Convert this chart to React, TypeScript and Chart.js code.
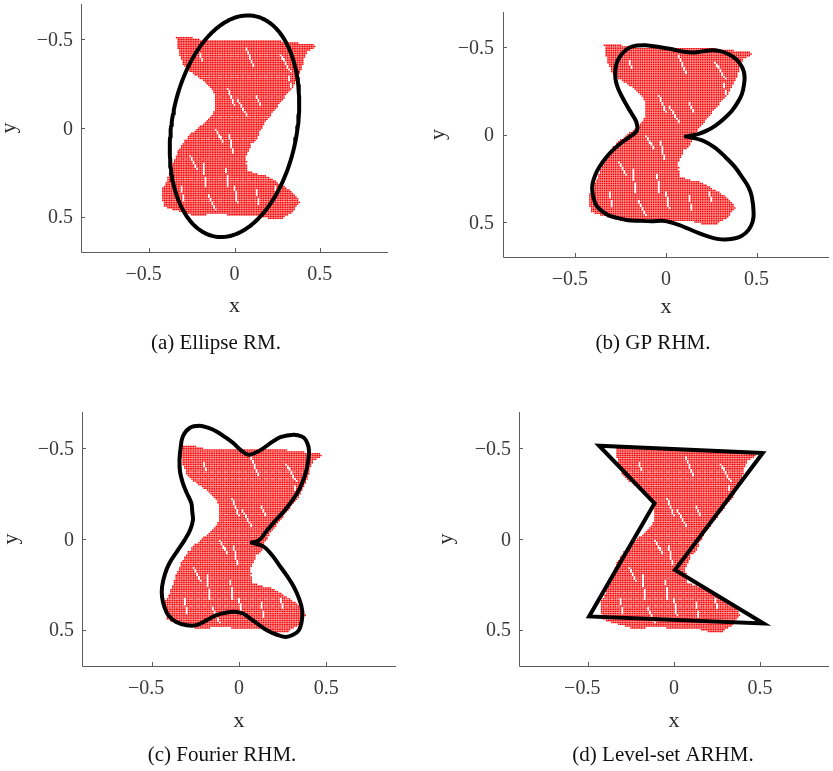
import { useEffect, useRef } from 'react';
import { Chart, registerables } from 'chart.js';

Chart.register(...registerables);

// ---------- axes ----------
const X_MIN = -0.9;
const X_MAX = 0.9;
const Y_MIN = -0.7;
const Y_MAX = 0.7;
const TICK_VALUES = [-0.5, 0, 0.5];
const TICK_LABELS = ['−0.5', '0', '0.5'];

// ---------- measurement cloud (outline of the sensed region, y grows downward) ----------
const CLOUD_X = [
  -0.34, -0.26, -0.2, -0.12, -0.03, 0.06, 0.15, 0.24, 0.32, 0.4, 0.48, 0.47, 0.43, 0.41, 0.395,
  0.365, 0.34, 0.3, 0.26, 0.22, 0.18, 0.15, 0.135, 0.1, 0.08, 0.07, 0.075, 0.14, 0.2, 0.26, 0.33,
  0.37, 0.385, 0.36, 0.34, 0.3, 0.27, 0.2, 0.12, 0.06, 0.0, -0.08, -0.16, -0.22, -0.28, -0.35,
  -0.41, -0.425, -0.42, -0.39, -0.36, -0.33, -0.29, -0.25, -0.2, -0.16, -0.12, -0.11, -0.12,
  -0.16, -0.21, -0.26, -0.3, -0.32, -0.335,
];
const CLOUD_Y = [
  -0.51, -0.515, -0.5, -0.495, -0.49, -0.495, -0.49, -0.495, -0.485, -0.478, -0.468, -0.45, -0.43,
  -0.39, -0.33, -0.27, -0.22, -0.18, -0.13, -0.08, -0.035, 0.02, 0.06, 0.09, 0.14, 0.2, 0.24,
  0.26, 0.275, 0.31, 0.355, 0.39, 0.42, 0.45, 0.48, 0.5, 0.52, 0.51, 0.49, 0.5, 0.495, 0.485,
  0.49, 0.5, 0.48, 0.465, 0.445, 0.4, 0.34, 0.28, 0.2, 0.13, 0.07, 0.03, -0.01, -0.045, -0.09,
  -0.15, -0.2, -0.25, -0.285, -0.32, -0.36, -0.41, -0.46,
];
const CLOUD_STEP = 0.01;

// gaps (missing returns) running through the cloud: segment start/end
const GAP_X0 = [-0.203, 0.071, 0.273, 0.315, -0.038, 0.016, 0.126, -0.112, -0.029, -0.258, -0.185, -0.048, 0.071, 0.0, 0.126, 0.236, -0.313, -0.148];
const GAP_Y0 = [-0.42, -0.449, -0.411, -0.297, -0.222, -0.165, -0.184, 0.006, 0.044, 0.157, 0.195, 0.233, 0.157, 0.328, 0.347, 0.328, 0.328, 0.384];
const GAP_X1 = [-0.185, 0.108, 0.328, 0.346, 0.0, 0.071, 0.154, -0.066, -0.011, -0.221, -0.167, -0.038, 0.08, 0.016, 0.145, 0.255, -0.295, -0.112];
const GAP_Y1 = [-0.373, -0.354, -0.316, -0.184, -0.127, -0.07, -0.127, 0.081, 0.138, 0.233, 0.328, 0.328, 0.233, 0.422, 0.441, 0.384, 0.422, 0.46];

// ---------- estimated extents ----------
// (a) random-matrix ellipse
const ELLIPSE_CX = 0.0;
const ELLIPSE_CY = -0.01;
const ELLIPSE_A = 0.633;
const ELLIPSE_B = 0.367;
const ELLIPSE_ANGLE_DEG = 100.8;

// (b) Gaussian-process contour
const GP_X = [
  0.108, 0.2, 0.27, 0.328, 0.38, 0.419, 0.455, 0.474, 0.484, 0.478, 0.456, 0.42, 0.383, 0.33,
  0.291, 0.24, 0.181, 0.12, 0.071, 0.02, -0.02, -0.08, -0.148, -0.21, -0.258, -0.31, -0.35,
  -0.385, -0.399, -0.407, -0.405, -0.39, -0.368, -0.335, -0.295, -0.25, -0.203, -0.17, -0.158,
  -0.16, -0.167, -0.195, -0.221, -0.245, -0.267, -0.279, -0.28, -0.273, -0.258, -0.233, -0.203,
  -0.16, -0.112, -0.04, 0.035, 0.09, 0.145, 0.2, 0.254, 0.305, 0.346, 0.385, 0.41, 0.428, 0.434,
  0.43, 0.419, 0.395, 0.364, 0.32, 0.273, 0.225, 0.181, 0.14, 0.108,
];
const GP_Y = [
  0.011, 0.034, 0.075, 0.129, 0.185, 0.242, 0.3, 0.356, 0.45, 0.5, 0.545, 0.578, 0.593, 0.6,
  0.598, 0.585, 0.564, 0.537, 0.517, 0.5, 0.493, 0.495, 0.493, 0.49, 0.479, 0.465, 0.441, 0.405,
  0.365, 0.32, 0.28, 0.23, 0.186, 0.137, 0.091, 0.05, 0.015, -0.01, -0.032, -0.055, -0.08,
  -0.128, -0.174, -0.22, -0.269, -0.318, -0.364, -0.405, -0.439, -0.472, -0.496, -0.508, -0.51,
  -0.5, -0.487, -0.474, -0.468, -0.475, -0.481, -0.475, -0.458, -0.432, -0.402, -0.365, -0.326,
  -0.28, -0.231, -0.182, -0.136, -0.09, -0.051, -0.022, -0.004, 0.006, 0.011,
];

// (c) Fourier contour
const FOURIER_X = [
  0.073, 0.141, 0.19, 0.237, 0.28, 0.314, 0.345, 0.362, 0.36, 0.343, 0.31, 0.266, 0.21, 0.16,
  0.11, 0.064, 0.025, -0.013, -0.07, -0.129, -0.19, -0.245, -0.3, -0.36, -0.405, -0.428, -0.441,
  -0.441, -0.425, -0.399, -0.355, -0.312, -0.28, -0.264, -0.268, -0.273, -0.3, -0.322, -0.338,
  -0.341, -0.335, -0.322, -0.283, -0.225, -0.175, -0.129, -0.08, -0.033, 0.01, 0.054, 0.1, 0.141,
  0.19, 0.237, 0.314, 0.36, 0.382, 0.398, 0.401, 0.395, 0.382, 0.36, 0.333, 0.296, 0.256, 0.215,
  0.179, 0.155, 0.141, 0.128, 0.105, 0.073,
];
const FOURIER_Y = [
  0.02, 0.042, 0.09, 0.153, 0.21, 0.263, 0.33, 0.392, 0.45, 0.503, 0.528, 0.54, 0.525, 0.503,
  0.47, 0.438, 0.412, 0.402, 0.405, 0.42, 0.45, 0.475, 0.475, 0.457, 0.42, 0.374, 0.32, 0.263,
  0.195, 0.134, 0.068, 0.006, -0.05, -0.105, -0.15, -0.197, -0.255, -0.308, -0.37, -0.436, -0.5,
  -0.565, -0.612, -0.624, -0.612, -0.593, -0.562, -0.529, -0.49, -0.464, -0.478, -0.501, -0.535,
  -0.562, -0.575, -0.565, -0.547, -0.51, -0.473, -0.42, -0.363, -0.305, -0.252, -0.2, -0.151,
  -0.108, -0.068, -0.04, -0.022, -0.005, 0.012, 0.02,
];

// (d) level-set polygon
const LEVELSET_X = [-0.435, 0.515, 0.006, 0.52, -0.493, -0.113];
const LEVELSET_Y = [-0.514, -0.474, 0.17, 0.466, 0.427, -0.197];

type Pt = { x: number; y: number };

function insidePolygon(px: number, py: number, xs: number[], ys: number[]) {
  let inside = false;
  for (let i = 0, j = xs.length - 1; i < xs.length; j = i++) {
    if ((ys[i] > py) !== (ys[j] > py) && px < ((xs[j] - xs[i]) * (py - ys[i])) / (ys[j] - ys[i]) + xs[i]) {
      inside = !inside;
    }
  }
  return inside;
}

function segDist(px: number, py: number, x0: number, y0: number, x1: number, y1: number) {
  const dx = x1 - x0;
  const dy = y1 - y0;
  const len2 = dx * dx + dy * dy;
  let t = len2 > 0 ? ((px - x0) * dx + (py - y0) * dy) / len2 : 0;
  t = Math.max(0, Math.min(1, t));
  const qx = x0 + t * dx - px;
  const qy = y0 + t * dy - py;
  return Math.sqrt(qx * qx + qy * qy);
}

// lattice cells of the sensor grid that lie inside the cloud outline and off the gaps
function cloudPoints(): Pt[] {
  const pts: Pt[] = [];
  const i0 = Math.floor(Math.min(...CLOUD_X) / CLOUD_STEP);
  const i1 = Math.ceil(Math.max(...CLOUD_X) / CLOUD_STEP);
  const j0 = Math.floor(Math.min(...CLOUD_Y) / CLOUD_STEP);
  const j1 = Math.ceil(Math.max(...CLOUD_Y) / CLOUD_STEP);
  for (let j = j0; j <= j1; j++) {
    for (let i = i0; i <= i1; i++) {
      const x = i * CLOUD_STEP;
      const y = j * CLOUD_STEP;
      if (!insidePolygon(x, y, CLOUD_X, CLOUD_Y)) continue;
      let gap = false;
      for (let k = 0; k < GAP_X0.length; k++) {
        if (segDist(x, y, GAP_X0[k], GAP_Y0[k], GAP_X1[k], GAP_Y1[k]) < 0.0045) {
          gap = true;
          break;
        }
      }
      if (!gap) pts.push({ x, y });
    }
  }
  return pts;
}

function ellipsePoints(): Pt[] {
  const th = (ELLIPSE_ANGLE_DEG * Math.PI) / 180;
  const c = Math.cos(th);
  const s = Math.sin(th);
  const pts: Pt[] = [];
  for (let k = 0; k <= 181; k++) {
    const t = (k / 180) * 2 * Math.PI;
    pts.push({
      x: ELLIPSE_CX + ELLIPSE_A * c * Math.cos(t) - ELLIPSE_B * s * Math.sin(t),
      y: ELLIPSE_CY + ELLIPSE_A * s * Math.cos(t) + ELLIPSE_B * c * Math.sin(t),
    });
  }
  return pts;
}

const zip = (xs: number[], ys: number[]): Pt[] => xs.map((x, i) => ({ x, y: ys[i] }));

type PanelCfg = {
  area: { l: number; r: number; t: number; b: number };
  yLabelGap: number;
  yTitleX: number;
  xTitleBase: number;
  caption: string;
  capX: number;
  capBase: number;
  outline: Pt[];
  tension: number;
  join: CanvasLineJoin;
};

const W = 833;
const H = 771;

const PANELS: PanelCfg[] = [
  {
    area: { l: 81, r: 388, t: 3, b: 252 },
    yLabelGap: 8, yTitleX: 12, xTitleBase: 312,
    caption: '(a) Ellipse RM.', capX: 216, capBase: 349,
    outline: ellipsePoints(), tension: 0, join: 'round',
  },
  {
    area: { l: 503, r: 832, t: 12, b: 257 },
    yLabelGap: 9, yTitleX: 441, xTitleBase: 313,
    caption: '(b) GP RHM.', capX: 653, capBase: 349,
    outline: zip(GP_X, GP_Y), tension: 0.35, join: 'round',
  },
  {
    area: { l: 82, r: 396, t: 412, b: 666 },
    yLabelGap: 8, yTitleX: 14, xTitleBase: 727,
    caption: '(c) Fourier RHM.', capX: 222, capBase: 761,
    outline: zip(FOURIER_X, FOURIER_Y), tension: 0.35, join: 'round',
  },
  {
    area: { l: 519, r: 833, t: 412, b: 666 },
    yLabelGap: 8, yTitleX: 449, xTitleBase: 727,
    caption: '(d) Level-set ARHM.', capX: 663, capBase: 761,
    outline: zip(
      [...LEVELSET_X, LEVELSET_X[0], LEVELSET_X[1]],
      [...LEVELSET_Y, LEVELSET_Y[0], LEVELSET_Y[1]],
    ),
    tension: 0, join: 'miter',
  },
];

const SERIF = '"Liberation Serif", "Times New Roman", serif';

const paperAxes = {
  id: 'paperAxes',
  afterDraw(chart: any, _args: any, opts: any) {
    const cfg: PanelCfg = opts.cfg;
    const { ctx, chartArea } = chart;
    const { left, right, top, bottom } = chartArea;
    const xs = chart.scales.x;
    const ys = chart.scales.y;
    ctx.save();

    // spines and inward ticks
    ctx.strokeStyle = '#5c5c5c';
    ctx.lineWidth = 1;
    ctx.beginPath();
    ctx.moveTo(left + 0.5, top);
    ctx.lineTo(left + 0.5, bottom + 0.5);
    ctx.lineTo(right, bottom + 0.5);
    TICK_VALUES.forEach((v) => {
      const px = Math.round(xs.getPixelForValue(v)) + 0.5;
      ctx.moveTo(px, bottom);
      ctx.lineTo(px, bottom - 4);
      const py = Math.round(ys.getPixelForValue(v)) + 0.5;
      ctx.moveTo(left, py);
      ctx.lineTo(left + 4, py);
    });
    ctx.stroke();

    // tick labels
    ctx.fillStyle = '#3a3a3a';
    ctx.font = `20px ${SERIF}`;
    ctx.textBaseline = 'alphabetic';
    TICK_VALUES.forEach((v, i) => {
      const label = TICK_LABELS[i];
      const num = label.replace('−', '');
      const w = ctx.measureText(num).width;
      ctx.textAlign = 'right';
      ctx.fillText(label, xs.getPixelForValue(v) + w / 2, bottom + 28);
      ctx.fillText(label, left - cfg.yLabelGap, ys.getPixelForValue(v) + 6.5);
    });

    // axis titles
    ctx.fillStyle = '#2a2a2a';
    ctx.font = `22px ${SERIF}`;
    ctx.textAlign = 'center';
    ctx.fillText('x', xs.getPixelForValue(0), cfg.xTitleBase);
    ctx.save();
    ctx.translate(cfg.yTitleX + 2.5, (top + bottom) / 2);
    ctx.rotate(-Math.PI / 2);
    ctx.fillText('y', 0, 0);
    ctx.restore();

    // caption
    ctx.fillStyle = '#111';
    ctx.font = `21px ${SERIF}`;
    ctx.textAlign = 'center';
    ctx.fillText(cfg.caption, cfg.capX, cfg.capBase);
    ctx.restore();
  },
};

function Panel({ cfg, cloud }: { cfg: PanelCfg; cloud: Pt[] }) {
  const ref = useRef<HTMLCanvasElement>(null);
  useEffect(() => {
    const canvas = ref.current;
    if (!canvas) return;
    const chart = new Chart(canvas, {
      type: 'scatter',
      data: {
        datasets: [
          {
            data: cfg.outline,
            showLine: true,
            pointRadius: 0,
            borderColor: '#000',
            borderWidth: 4,
            tension: cfg.tension,
            borderJoinStyle: cfg.join,
            borderCapStyle: 'round',
            fill: false,
            order: 0,
          } as any,
          {
            data: cloud,
            showLine: false,
            pointStyle: 'rect',
            pointRadius: 1.05,
            pointBorderWidth: 0,
            pointBackgroundColor: '#ff0000',
            order: 1,
          } as any,
        ],
      },
      options: {
        animation: false,
        responsive: false,
        devicePixelRatio: 1,
        events: [],
        layout: {
          padding: { left: cfg.area.l, top: cfg.area.t, right: W - cfg.area.r, bottom: H - cfg.area.b },
        },
        plugins: {
          legend: { display: false },
          tooltip: { enabled: false },
          paperAxes: { cfg },
        } as any,
        scales: {
          x: { type: 'linear', min: X_MIN, max: X_MAX, display: false },
          y: { type: 'linear', min: Y_MIN, max: Y_MAX, reverse: true, display: false },
        },
      },
      plugins: [paperAxes],
    });
    return () => chart.destroy();
  }, [cfg, cloud]);
  return <canvas ref={ref} width={W} height={H} style={{ position: 'absolute', left: 0, top: 0 }} />;
}

const CLOUD = cloudPoints();

export default function App() {
  return (
    <div style={{ position: 'absolute', left: 0, top: 0, width: W, height: H, background: '#fff' }}>
      {PANELS.map((p, i) => (
        <Panel key={i} cfg={p} cloud={CLOUD} />
      ))}
    </div>
  );
}
